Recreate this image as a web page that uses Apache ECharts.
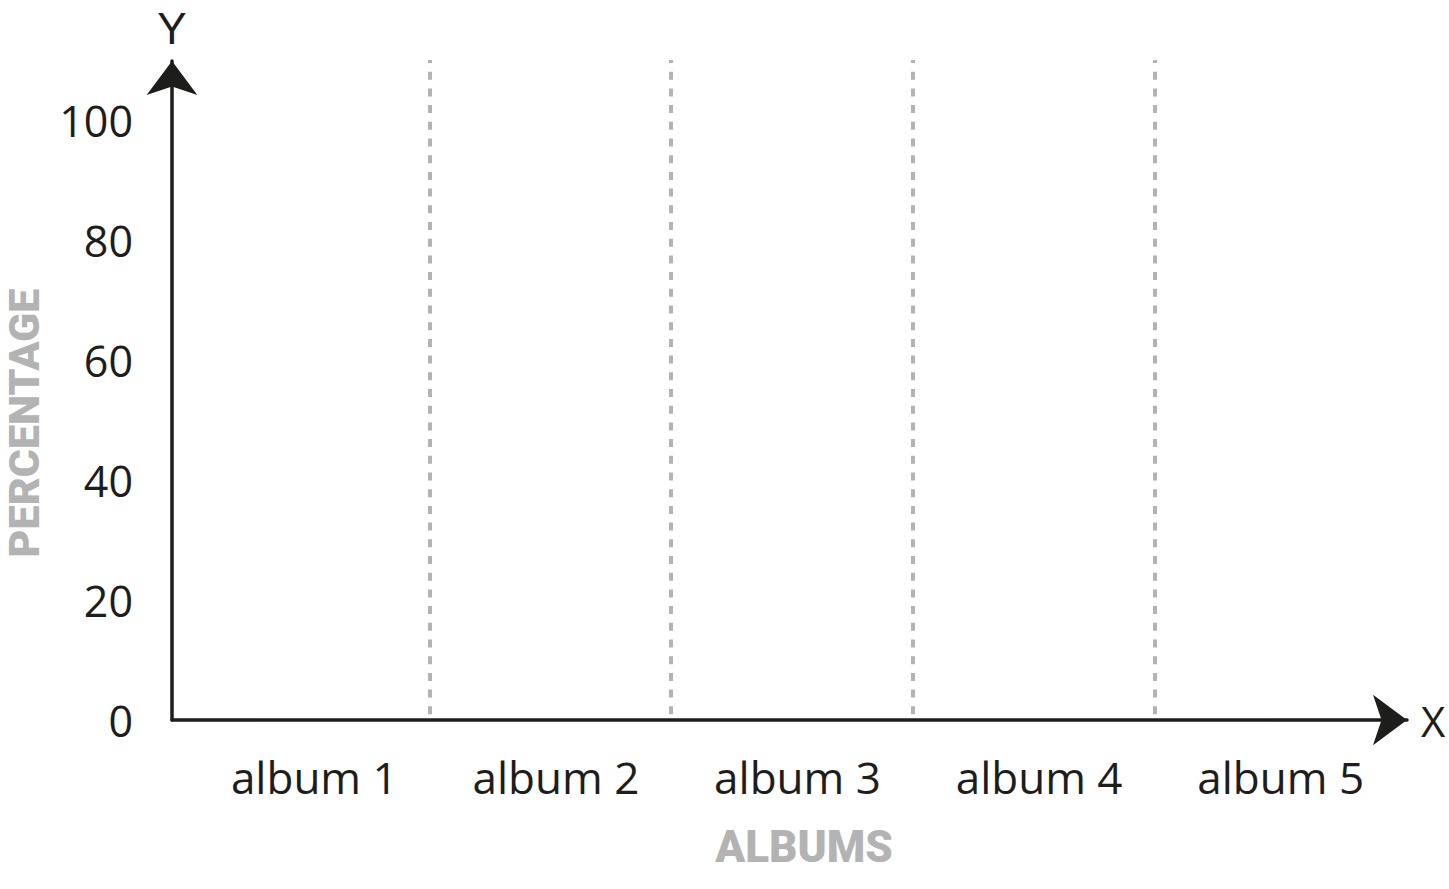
<!DOCTYPE html>
<html lang="en">
  <head>
    <meta charset="UTF-8" />
    <script src="https://cdn.jsdelivr.net/npm/echarts@6/dist/echarts.min.js"></script>
    <title>Albums</title>
  </head>
  <body style="margin: 0">
    <div id="chart" style="width: 1449px; height: 889px"></div>
  </body>
</html>

<script>
  // axes only, no data in the picture
  const albums = ["album 1", "album 2", "album 3", "album 4", "album 5"];
  const yMin = 0;
  const yTop = 100;
  const yStep = 20;

  const ink = "#1d1d1b";
  const grey = "#b3b3b3";
  const labelFont = "'Open Sans', 'Noto Sans', sans-serif";
  const titleFont = "Roboto, Lato, sans-serif";

  const myChart = echarts.init(document.getElementById("chart"), null, { renderer: "svg" });

  const options = {
    animation: false,
    grid: [
      { left: 172, right: 42, top: 61, bottom: 169, outerBoundsMode: "none" },
      { left: 188, right: 53, top: 60, bottom: 169, outerBoundsMode: "none" },
    ],
    xAxis: [
      {
        gridIndex: 0,
        type: "value",
        min: 0,
        max: 1,
        axisLine: {
          show: true,
          symbol: ["none", "arrow"],
          symbolSize: [38, 34],
          lineStyle: { color: ink, width: 3.5 },
        },
        axisTick: { show: false },
        axisLabel: { show: false },
        splitLine: { show: false },
        name: "X",
        nameLocation: "end",
        nameGap: 14,
        nameTextStyle: { fontFamily: labelFont, fontSize: 42, color: ink },
      },
      {
        gridIndex: 1,
        type: "category",
        data: albums,
        boundaryGap: true,
        axisLine: { show: false },
        axisTick: { show: false },
        axisLabel: {
          fontFamily: labelFont,
          fontSize: 44,
          color: ink,
          margin: 35,
          interval: 0,
          padding: [0, 0, 0, 11],
        },
        splitLine: {
          show: true,
          showMinLine: false,
          showMaxLine: false,
          interval: 0,
          lineStyle: { color: grey, width: 4, type: [8, 8.7], dashOffset: 5 },
        },
        name: "ALBUMS",
        nameLocation: "middle",
        nameGap: 105,
        nameTextStyle: {
          fontFamily: titleFont,
          fontWeight: 900,
          fontSize: 44,
          color: grey,
          padding: [0, 0, 0, 24],
        },
      },
    ],
    yAxis: [
      {
        gridIndex: 0,
        type: "value",
        min: yMin,
        max: 110,
        interval: yStep,
        axisLine: {
          show: true,
          symbol: ["none", "arrow"],
          symbolSize: [38, 34],
          lineStyle: { color: ink, width: 3.5 },
        },
        axisTick: { show: false },
        axisLabel: {
          fontFamily: labelFont,
          fontSize: 43,
          color: ink,
          margin: 39,
          showMaxLabel: false,
          formatter: (v) => (v <= yTop ? String(v) : ""),
        },
        splitLine: { show: false },
        name: "Y",
        nameLocation: "end",
        nameGap: 15,
        nameTextStyle: {
          fontFamily: "'Liberation Sans', Arial, sans-serif",
          fontSize: 44,
          lineHeight: 36,
          color: ink,
        },
      },
      {
        gridIndex: 1,
        type: "value",
        min: 0,
        max: 1,
        axisLine: { show: false },
        axisTick: { show: false },
        axisLabel: { show: false },
        splitLine: { show: false },
        name: "PERCENTAGE",
        nameLocation: "middle",
        nameGap: 143,
        nameTextStyle: {
          fontFamily: titleFont,
          fontWeight: 900,
          fontSize: 43,
          color: grey,
          padding: [0, 66, 0, 0],
        },
      },
    ],
    series: [],
  };
  myChart.setOption(options);
</script>
